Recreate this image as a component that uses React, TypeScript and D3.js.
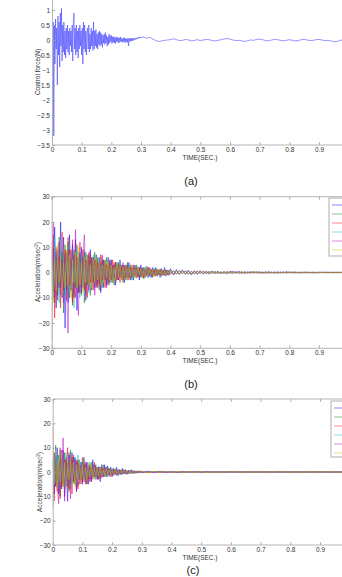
import React, { useEffect, useRef } from "react";
import * as d3 from "d3";

// ---------- DATA ----------
const xTickValues = [0, 0.1, 0.2, 0.3, 0.4, 0.5, 0.6, 0.7, 0.8, 0.9];
const xTickLabels = ["0", "0.1", "0.2", "0.3", "0.4", "0.5", "0.6", "0.7", "0.8", "0.9"];
const yTicksA = [-3.5, -3, -2.5, -2, -1.5, -1, -0.5, 0, 0.5, 1];
const yTicksAcc = [-30, -20, -10, 0, 10, 20, 30];

// (a) control force, 0..0.3 s every 0.002 s, then 0.31..1.0 s every 0.01 s
const forceMain = [
  0.7, -2.3, 0.6, -3.2, 0.5, -0.8, 0.7, -0.3, 0.4, -1.5,
  0.8, -0.5, 0.6, -0.9, 0.9, -0.2, 1.05, -0.7, 0.5, -0.4,
  0.6, -0.5, 0.3, -0.6, 0.4, -0.3, 0.5, -0.4, 0.3, -0.5,
  0.4, -0.2, 0.3, -0.4, 0.5, -0.7, 0.6, 0.9, -0.3, 0.4,
  -0.5, 0.5, -0.4, 0.3, -0.6, 0.4, -0.3, 0.5, -0.2, 0.3,
  -0.5, 0.4, -0.8, 0.6, -0.3, 0.5, -0.4, 0.3, -0.5, 0.2,
  0.4, -0.3, 0.5, -0.4, 0.2, -0.3, 0.4, -0.2, 0.3, -0.35,
  0.6, -0.3, 0.3, -0.2, 0.35, -0.25, 0.2, -0.3, 0.25, -0.15,
  0.3, -0.2, 0.25, -0.15, 0.2, -0.25, 0.15, -0.1, 0.2, -0.15,
  0.25, -0.1, 0.15, -0.2, 0.1, -0.15, 0.2, -0.1, 0.15, -0.05,
  0.15, -0.12, 0.1, -0.08, 0.12, -0.1, 0.08, -0.12, 0.1, -0.05,
  0.1, -0.08, 0.06, -0.1, 0.08, -0.05, 0.1, -0.06, 0.05, -0.08,
  0.06, -0.05, 0.08, -0.1, 0.05, -0.06, 0.04, -0.08, 0.06, -0.2,
  0.05, -0.05, 0.06, -0.04, 0.05, -0.03, 0.06, -0.02, 0.05, 0.0,
  0.06, 0.02, 0.07, 0.03, 0.08, 0.05, 0.09, 0.06, 0.1, 0.07, 0.08,
];
const forceTail = [
  0.1, 0.06, 0.09, 0.03, -0.02, -0.05, -0.03, -0.01, 0.0, 0.02,
  0.04, 0.01, -0.02, -0.01, 0.02, 0.0, -0.03, -0.01, 0.01, -0.02,
  0.0, 0.02, 0.01, -0.02, -0.03, -0.01, 0.01, 0.03, 0.05, 0.03,
  0.0, -0.02, -0.01, -0.03, -0.05, -0.02, 0.0, -0.01, 0.02, 0.03,
  0.01, -0.02, -0.03, 0.0, 0.02, 0.01, -0.01, -0.03, -0.01, 0.01,
  -0.01, -0.03, -0.02, 0.01, 0.02, 0.0, -0.02, -0.01, 0.01, 0.02,
  0.0, -0.02, -0.01, -0.03, -0.06, -0.05, -0.02, 0.01, 0.02, 0.01,
];

// (b) accelerations: 0..0.4 s every 0.005 s, then 0.41..1.0 s every 0.01 s
const accBMain = [
  [12, -8, 18, -14, 9, -6, 20, -10, 14, -22, 8, -12, 15, -7, 11, -9, 13, -15, 6, -8, 10, -6, 8, -11, 7, -5, 9, -7, 5, -6, 7, -4, 6, -8, 5, -6, 4, -5, 6, -3, 5, -4, 3, -5, 4, -3, 5, -2, 3, -4, 3, -2, 4, -3, 2, -3, 3, -2, 2, -3, 3, -2, 2, -1.5, 2.5, -2, 1.5, -2, 2, -1, 2, -1.5, 1, -2, 1.5, -1, 2, -1.5, 1, -1.2, 1.5],
  [-5, 10, -12, 6, -9, 14, -6, 8, -16, 11, -7, 12, -10, 5, -13, 9, -6, 11, -8, 7, -9, 6, -12, 8, -5, 7, -9, 6, -4, 8, -5, 6, -7, 4, -6, 5, -3, 6, -4, 5, -4, 3, -5, 4, -3, 4, -2, 3, -4, 2, -3, 4, -2, 3, -3, 2, -2, 3, -1.5, 2, -2, 1.5, -2.5, 2, -1, 2, -1.5, 1, -2, 1.5, -1, 1.5, -1, 1.2, -1.5, 0.8, -1, 1.2, -0.8, 1, -0.5],
  [-27, 15, -18, 10, -11, 6, -14, 16, -7, 9, -11, 14, -5, 9, -12, 7, -10, 6, -8, 12, -6, 9, -7, 5, -10, 8, -4, 6, -7, 5, -6, 4, -5, 7, -3, 5, -6, 3, -5, 4, -3, 5, -2, 4, -3, 3, -4, 2, -3, 3, -2, 3, -3, 2, -2, 3, -1, 2, -2, 2, -1.5, 2, -2, 1, -1.5, 2, -1, 1.5, -1.5, 1, -1.5, 1, -0.8, 1.5, -1, 1, -1.2, 0.8, -1, 0.7, 0.5],
  [6, -10, 14, -5, 8, -12, 10, -4, 7, -9, 5, -8, 11, -6, 9, -14, 4, -6, 8, -10, 7, -5, 9, -6, 4, -8, 6, -5, 7, -3, 4, -6, 5, -4, 6, -3, 5, -4, 3, -5, 4, -3, 2, -4, 3, -2, 4, -3, 2, -2, 3, -2, 2, -3, 1.5, -2, 2, -1.5, 2.5, -2, 1.5, -1, 2, -1.5, 1, -2, 1.5, -1, 1, -1.5, 1, -1.2, 0.8, -1, 1.2, -0.7, 0.9, -1, 0.6, -0.8, 0.7],
  [3, 20, -10, 8, -6, 12, -9, 5, -12, 7, -5, -24, 9, -7, 13, -10, 17, -5, -17, 8, -8, 6, 15, -9, 5, -7, 8, -4, 6, -9, 5, -6, 4, -7, 7, -3, 5, -6, 3, -4, 5, -3, 4, -4, 2, -3, 3, -2, 4, -2, 2, -3, 2, -2, 3, -1.5, 2, -2, 1.5, -2, 2, -1.5, 1, -2, 1.5, -1, 2, -1.5, 1, -1, 1.2, -1, 1, -0.8, 1, -1.2, 0.7, -0.9, 1, -0.6, -0.7],
  [8, -12, 5, -7, 11, -4, 6, -9, 4, -6, 9, -5, 7, -10, 5, -4, 8, -6, 10, -5, 4, -8, 6, -4, 7, -5, 3, -6, 5, -4, 6, -3, 4, -5, 3, -4, 5, -2, 4, -3, 3, -4, 2, -3, 4, -2, 3, -3, 2, -2, 2, -3, 2, -1.5, 3, -2, 1.5, -2, 2, -1, 1.5, -2, 1, -1.5, 2, -1, 1.5, -1, 1, -1.5, 1, -1, 1.2, -0.8, 0.9, -1, 0.7, -1, 0.8, -0.6, 0.6],
];
const accBTail = [
  [-1, 1.2, -0.8, 1, -0.7, 0.9, -1, 0.6, -0.8, 0.7, -0.6, 0.5, -0.7, 0.6, -0.4, 0.5, -0.5, 0.4, -0.6, 0.3, 0.4, -0.3, 0.5, -0.4, 0.3, -0.3, 0.4, -0.2, 0.3, -0.3, 0.2, -0.3, 0.3, -0.2, 0.2, -0.3, 0.2, -0.2, 0.3, -0.1, 0.2, -0.2, 0.15, -0.2, 0.2, -0.15, 0.1, -0.2, 0.15, -0.1, 0.2, -0.15, 0.1, -0.1, 0.15, -0.1, 0.1, -0.15, 0.1, -0.05],
  [0.8, -0.6, 0.9, -0.5, 0.7, -0.8, 0.4, -0.6, 0.5, -0.4, 0.6, -0.3, 0.4, -0.5, 0.3, -0.4, 0.3, -0.3, 0.4, -0.2, -0.3, 0.3, -0.2, 0.3, -0.3, 0.2, -0.2, 0.3, -0.2, 0.2, -0.2, 0.2, -0.3, 0.1, -0.2, 0.2, -0.1, 0.2, -0.2, 0.1, -0.1, 0.2, -0.1, 0.15, -0.1, 0.1, -0.15, 0.1, -0.1, 0.1, -0.1, 0.1, -0.15, 0.05, -0.1, 0.1, -0.05, 0.1, -0.1, 0.05],
  [-0.9, 0.7, -0.6, 0.8, -0.7, 0.5, -0.6, 0.7, -0.4, 0.5, -0.5, 0.4, -0.3, 0.5, -0.4, 0.3, -0.4, 0.3, -0.3, 0.4, -0.2, 0.3, -0.3, 0.2, -0.3, 0.2, -0.2, 0.3, -0.1, 0.2, -0.3, 0.2, -0.2, 0.1, -0.2, 0.2, -0.2, 0.1, -0.15, 0.2, -0.1, 0.15, -0.2, 0.1, -0.1, 0.15, -0.1, 0.1, -0.15, 0.1, -0.05, 0.1, -0.1, 0.15, -0.1, 0.05, -0.1, 0.1, -0.05, 0.05],
  [-0.6, 0.5, -0.7, 0.4, -0.5, 0.6, -0.3, 0.5, -0.4, 0.3, -0.4, 0.3, -0.3, 0.4, -0.2, 0.3, -0.3, 0.2, -0.3, 0.2, -0.2, 0.2, -0.3, 0.1, -0.2, 0.2, -0.1, 0.2, -0.2, 0.1, -0.1, 0.2, -0.1, 0.15, -0.2, 0.1, -0.1, 0.15, -0.1, 0.1, -0.1, 0.1, -0.15, 0.05, -0.1, 0.1, -0.05, 0.1, -0.1, 0.05, -0.05, 0.1, -0.05, 0.05, -0.1, 0.05, -0.05, 0.1, -0.05, 0.05],
  [0.6, -0.7, 0.5, -0.4, 0.6, -0.5, 0.4, -0.3, 0.5, -0.3, 0.3, -0.4, 0.3, -0.2, 0.4, -0.3, 0.2, -0.3, 0.2, -0.2, 0.3, -0.2, 0.2, -0.1, 0.2, -0.2, 0.1, -0.2, 0.2, -0.1, 0.1, -0.2, 0.2, -0.1, 0.1, -0.15, 0.1, -0.1, 0.15, -0.1, 0.1, -0.1, 0.05, -0.15, 0.1, -0.05, 0.1, -0.1, 0.05, -0.1, 0.05, -0.05, 0.1, -0.1, 0.05, -0.05, 0.1, -0.05, 0.05, -0.05],
  [-0.5, 0.6, -0.4, 0.5, -0.6, 0.3, -0.4, 0.5, -0.3, 0.4, -0.3, 0.4, -0.2, 0.3, -0.3, 0.2, -0.3, 0.3, -0.2, 0.2, -0.2, 0.3, -0.1, 0.2, -0.2, 0.1, -0.2, 0.2, -0.1, 0.1, -0.2, 0.1, -0.1, 0.2, -0.1, 0.1, -0.15, 0.1, -0.1, 0.05, -0.1, 0.1, -0.05, 0.1, -0.1, 0.05, -0.1, 0.05, -0.05, 0.1, -0.05, 0.05, -0.1, 0.05, -0.05, 0.1, -0.05, 0.05, -0.05, 0.05],
];

// (c) accelerations: 0..0.3 s every 0.005 s, then 0.32..1.0 s every 0.02 s
const accCMain = [
  [-15, 8, -6, 10, -9, 5, -7, 9, -10, 6, -12, 7, -5, 8, -4, 6, -8, 5, -3, 4, -5, 6, -3, 4, -5, 3, -4, 5, -2, 3, -3, 2, -4, 3, -2, 3, -2, 2.5, -1.5, 2, -2, 1.5, -1, 2, -1.5, 1, -1.2, 1.5, -0.8, 1, -1, 0.8, -0.6, 1, -0.7, 0.5, -0.6, 0.5, -0.4, 0.4, -0.3],
  [5, -9, 11, -6, 7, -10, 6, -5, 8, -6, 4, -7, 9, -4, 6, -5, 4, -6, 5, -3, 4, -4, 3, -5, 2, -3, 4, -2, 3, -3, 2, -3, 2, -2, 3, -1.5, 2, -2, 1.5, -1, 1.5, -1, 1.2, -1.5, 1, -1, 0.8, -1, 1, -0.7, 0.6, -0.8, 0.5, -0.6, 0.7, -0.4, 0.5, -0.5, 0.3, -0.4, 0.3],
  [20, -12, 6, -8, 4, -11, 9, -6, 5, -4, 10, -8, 6, -9, 7, -4, 5, -7, 3, -5, 6, -3, 4, -5, 3, -4, 2, -3, 4, -2, 2, -3, 2, -2.5, 1.5, -2, 2, -1, 1.5, -2, 1, -1.5, 1.2, -1, 1, -0.8, 1, -0.6, 0.8, -0.9, 0.5, -0.6, 0.7, -0.5, 0.4, -0.6, 0.3, -0.4, 0.5, -0.3, 0.2],
  [-8, 6, -4, 7, -6, 9, -5, 4, -6, 8, -4, 5, -7, 3, -5, 6, -4, 7, -3, 4, -3, 5, -4, 2, -3, 4, -2, 3, -3, 2, -2, 2.5, -2, 1.5, -2, 1, -1.5, 2, -1, 1.5, -1, 1.2, -0.8, 1, -1, 0.7, -0.8, 0.9, -0.5, 0.6, -0.5, 0.4, -0.6, 0.5, -0.3, 0.4, -0.4, 0.3, -0.3, 0.2, -0.2],
  [4, -9, 7, -5, -13, 10, -6, 14, -12, 5, -6, 8, -11, 6, -4, 5, -8, 4, -5, 3, -4, 3, -5, 4, -3, 2, -4, 3, -2, 2, -3, 2, -2, 1.5, -2, 2, -1, 1.5, -1.5, 1, -1.2, 1, -1, 0.8, -1, 0.6, -0.8, 0.7, -0.6, 0.5, -0.5, 0.6, -0.4, 0.3, -0.5, 0.4, -0.3, 0.3, -0.2, 0.3, -0.2],
  [6, -5, 9, -7, 5, -4, 8, -6, 4, -7, 5, -3, 6, -5, 4, -6, 3, -4, 5, -3, 3, -4, 2, -3, 4, -2, 3, -2, 2, -3, 2, -1.5, 2, -2, 1, -1.5, 1.5, -1, 1, -1.2, 0.8, -1, 1, -0.7, 0.6, -0.8, 0.5, -0.6, 0.7, -0.4, 0.4, -0.5, 0.3, -0.4, 0.3, -0.3, 0.4, -0.2, 0.2, -0.3, 0.2],
];
const accCTail = [
  [0.3, -0.2, 0.25, -0.2, 0.15, -0.2, 0.1, -0.15, 0.1, -0.1, 0.15, -0.1, 0.05, -0.1, 0.1, -0.05, 0.1, -0.1, 0.05, -0.05, 0.1, -0.05, 0.05, -0.1, 0.05, -0.05, 0.05, -0.05, 0.1, -0.05, 0.05, -0.05, 0.05, -0.05, 0.05],
  [-0.2, 0.3, -0.15, 0.2, -0.2, 0.1, -0.15, 0.1, -0.1, 0.15, -0.05, 0.1, -0.1, 0.05, -0.1, 0.05, -0.05, 0.1, -0.05, 0.05, -0.1, 0.05, -0.05, 0.05, -0.05, 0.1, -0.05, 0.05, -0.05, 0.05, -0.05, 0.05, -0.1, 0.05, -0.05],
  [-0.3, 0.2, -0.2, 0.15, -0.2, 0.1, -0.1, 0.15, -0.1, 0.1, -0.05, 0.1, -0.1, 0.05, -0.05, 0.1, -0.05, 0.05, -0.1, 0.05, -0.05, 0.05, -0.05, 0.1, -0.05, 0.05, -0.05, 0.05, -0.05, 0.05, -0.1, 0.05, -0.05, 0.05, -0.05],
  [0.2, -0.15, 0.2, -0.1, 0.15, -0.1, 0.1, -0.1, 0.1, -0.05, 0.1, -0.05, 0.05, -0.1, 0.05, -0.05, 0.1, -0.05, 0.05, -0.05, 0.05, -0.05, 0.05, -0.05, 0.1, -0.05, 0.05, -0.05, 0.05, -0.05, 0.05, -0.05, 0.05, -0.05, 0.05],
  [0.15, -0.2, 0.1, -0.15, 0.1, -0.1, 0.1, -0.05, 0.1, -0.1, 0.05, -0.05, 0.1, -0.05, 0.05, -0.05, 0.05, -0.1, 0.05, -0.05, 0.05, -0.05, 0.05, -0.05, 0.05, -0.1, 0.05, -0.05, 0.05, -0.05, 0.05, -0.05, 0.05, -0.05, 0.05],
  [-0.15, 0.2, -0.1, 0.15, -0.1, 0.1, -0.1, 0.05, -0.1, 0.1, -0.05, 0.05, -0.1, 0.05, -0.05, 0.1, -0.05, 0.05, -0.05, 0.05, -0.05, 0.1, -0.05, 0.05, -0.05, 0.05, -0.05, 0.05, -0.05, 0.05, -0.05, 0.1, -0.05, 0.05, -0.05],
];

const seriesColors = ["#0000ff", "#008000", "#ff0000", "#00bfbf", "#bf00bf", "#bfbf00"];

// ---------- HELPERS ----------
type Pt = [number, number];
function build(main: number[], mainStart: number, mainDt: number, tail: number[], tailStart: number, tailDt: number): Pt[] {
  const a: Pt[] = main.map((v, i) => [mainStart + i * mainDt, v]);
  const b: Pt[] = tail.map((v, i) => [tailStart + i * tailDt, v]);
  return a.concat(b);
}

const FONT = "'Liberation Sans Narrow', 'Liberation Sans', Arial, sans-serif";

type PanelProps = {
  id: string;
  x0: number;
  x1: number;
  yTop: number;
  yBot: number;
  yDomain: [number, number];
  yTicks: number[];
  topFrame: boolean;
  series: Pt[][];
  colors: string[];
  width: number;
  yLabel: React.ReactNode;
  yLabelX: number;
  yLabelY: number;
  timeLabelY: number;
  legend?: { x: number; y: number; h: number };
};

function Panel(p: PanelProps) {
  const xAxisRef = useRef<SVGGElement>(null);
  const yAxisRef = useRef<SVGGElement>(null);
  const topRef = useRef<SVGGElement>(null);
  const x = d3.scaleLinear().domain([0, 1]).range([p.x0, p.x1]);
  const y = d3.scaleLinear().domain(p.yDomain).range([p.yBot, p.yTop]);

  useEffect(() => {
    const style = (g: d3.Selection<SVGGElement, unknown, null, undefined>) => {
      g.select(".domain").attr("stroke", "#b4b4b4").attr("stroke-width", 1);
      g.selectAll(".tick line").attr("stroke", "#a0a0a0").attr("stroke-width", 0.8);
      g.selectAll(".tick text")
        .attr("fill", "#333")
        .attr("font-size", 6.5)
        .attr("font-family", FONT);
    };
    if (xAxisRef.current) {
      const g = d3.select(xAxisRef.current);
      g.call(
        d3
          .axisBottom(x)
          .tickValues(xTickValues)
          .tickFormat((_d, i) => xTickLabels[i])
          .tickSizeInner(-3)
          .tickSizeOuter(0)
          .tickPadding(2)
      );
      style(g);
      g.select(".domain").attr("d", `M${p.x0},0H${p.width + 10}`);
    }
    if (yAxisRef.current) {
      const g = d3.select(yAxisRef.current);
      g.call(
        d3
          .axisLeft(y)
          .tickValues(p.yTicks)
          .tickFormat(d3.format("~g"))
          .tickSizeInner(-3)
          .tickSizeOuter(0)
          .tickPadding(3)
      );
      style(g);
      g.selectAll(".tick text").attr("x", -2);
    }
    if (topRef.current && p.topFrame) {
      const g = d3.select(topRef.current);
      g.call(d3.axisTop(x).tickValues(xTickValues).tickFormat(() => "").tickSizeInner(-3).tickSizeOuter(0));
      style(g);
      g.select(".domain").attr("d", `M${p.x0},0H${p.width + 10}`);
    }
  }, []);

  const line = d3
    .line<Pt>()
    .x((d) => x(d[0]))
    .y((d) => y(d[1]));

  return (
    <g>
      <defs>
        <clipPath id={`clip-${p.id}`}>
          <rect x={p.x0} y={p.yTop} width={p.width - p.x0} height={p.yBot - p.yTop} />
        </clipPath>
      </defs>
      <g clipPath={`url(#clip-${p.id})`}>
        {p.series.map((s, i) => (
          <path key={i} d={line(s) || ""} fill="none" stroke={p.colors[i]} strokeWidth={0.6} strokeOpacity={0.85} />
        ))}
      </g>
      <g ref={xAxisRef} transform={`translate(0,${p.yBot})`} />
      <g ref={yAxisRef} transform={`translate(${p.x0},0)`} />
      {p.topFrame && <g ref={topRef} transform={`translate(0,${p.yTop})`} />}
      {p.legend && (
        <g>
          <rect x={p.legend.x} y={p.legend.y} width={40} height={p.legend.h} fill="#fff" stroke="#9a9a9a" strokeWidth={0.8} />
          {p.colors.map((c, i) => (
            <line
              key={i}
              x1={p.legend!.x + 3}
              x2={p.legend!.x + 15}
              y1={p.legend!.y + 7 + i * 9}
              y2={p.legend!.y + 7 + i * 9}
              stroke={c}
              strokeWidth={0.8}
              strokeOpacity={0.6}
            />
          ))}
        </g>
      )}
      <text
        transform={`translate(${p.yLabelX},${p.yLabelY}) rotate(-90)`}
        textAnchor="middle"
        fontSize={6.5}
        fontFamily={FONT}
        fill="#333"
      >
        {p.yLabel}
      </text>
      <text x={200} y={p.timeLabelY} textAnchor="middle" fontSize={6.5} fontFamily={FONT} fill="#333">
        TIME(SEC.)
      </text>
    </g>
  );
}

export default function App() {
  const W = 342;
  const H = 577;
  const forceSeries: Pt[] = build(forceMain, 0, 0.002, forceTail, 0.31, 0.01);
  const bSeries = accBMain.map((m, i) => build(m, 0, 0.005, accBTail[i], 0.41, 0.01));
  const cSeries = accCMain.map((m, i) => build(m, 0, 0.005, accCTail[i], 0.32, 0.02));
  const accLabel = (
    <>
      Acceleration(m/sec<tspan baselineShift="super" fontSize={4.5}>2</tspan>)
    </>
  );
  return (
    <svg
      width={W}
      height={H}
      style={{ position: "absolute", left: 0, top: 0, background: "#fff" }}
    >
      <rect x={0} y={0} width={W} height={H} fill="#fff" />
      <Panel
        id="a"
        x0={52}
        x1={52 + 296.7}
        yTop={-5}
        yBot={145}
        yDomain={[-3.5, 1.5]}
        yTicks={yTicksA}
        topFrame={false}
        series={[forceSeries]}
        colors={["#3030ff"]}
        width={W}
        yLabel="Control force(N)"
        yLabelX={40}
        yLabelY={72}
        timeLabelY={160}
      />
      <text x={191} y={185} textAnchor="middle" fontSize={11} fontFamily="'Liberation Sans', Arial, sans-serif" fill="#222">
        (a)
      </text>
      <Panel
        id="b"
        x0={51.7}
        x1={51.7 + 297}
        yTop={196.7}
        yBot={348.3}
        yDomain={[-30, 30]}
        yTicks={yTicksAcc}
        topFrame={true}
        series={bSeries}
        colors={seriesColors}
        width={W}
        yLabel={accLabel}
        yLabelX={40}
        yLabelY={272}
        timeLabelY={363}
        legend={{ x: 329, y: 198, h: 58 }}
      />
      <text x={191} y={388} textAnchor="middle" fontSize={11} fontFamily="'Liberation Sans', Arial, sans-serif" fill="#222">
        (b)
      </text>
      <Panel
        id="c"
        x0={52.7}
        x1={52.7 + 297}
        yTop={399}
        yBot={545}
        yDomain={[-30, 30]}
        yTicks={yTicksAcc}
        topFrame={true}
        series={cSeries}
        colors={seriesColors}
        width={W}
        yLabel={accLabel}
        yLabelX={42}
        yLabelY={482}
        timeLabelY={560}
        legend={{ x: 331, y: 401, h: 56 }}
      />
      <text x={193} y={574} textAnchor="middle" fontSize={11} fontFamily="'Liberation Sans', Arial, sans-serif" fill="#222">
        (c)
      </text>
    </svg>
  );
}
